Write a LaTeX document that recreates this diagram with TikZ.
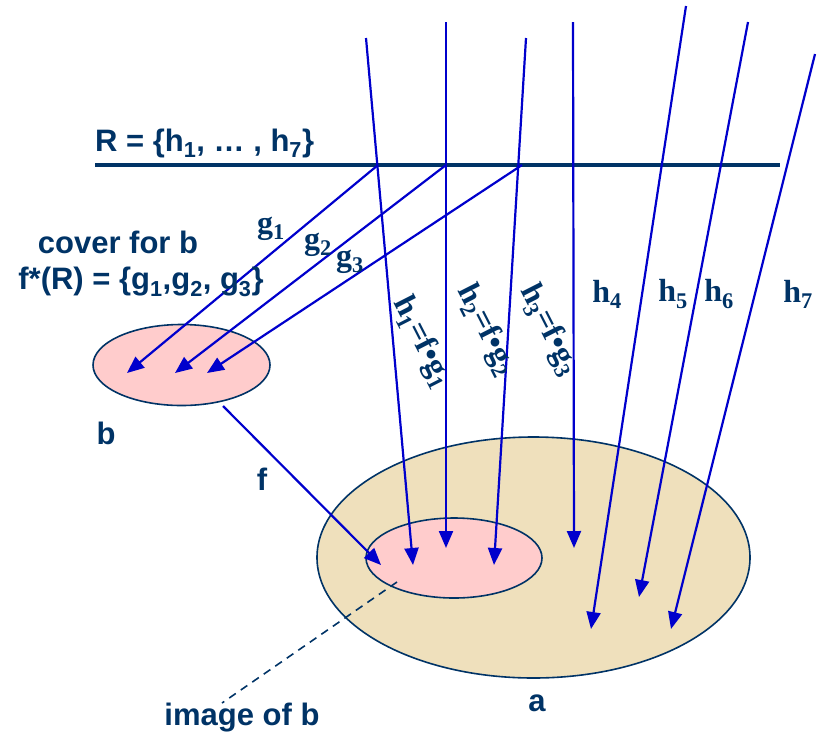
\documentclass[tikz,border=0pt]{standalone}
\usepackage{fontspec}
\setmainfont{Liberation Sans}
\newfontfamily\tms{Liberation Serif}
\usetikzlibrary{arrows.meta,shapes.geometric}
\definecolor{navy}{RGB}{0,51,102}
\definecolor{arr}{RGB}{0,0,204}
\definecolor{pinkf}{RGB}{255,204,204}
\definecolor{tan}{RGB}{239,224,188}
\tikzset{
  lbl/.style={text=navy,font=\fontsize{31}{34}\selectfont\bfseries,inner sep=0pt},
  tlbl/.style={text=navy,font=\fontsize{32}{34}\selectfont\tms\bfseries,inner sep=0pt},
  map/.style={draw=arr,line width=2.2pt,-{Triangle[length=17pt,width=14pt]}},
  setb/.style={ellipse,draw=navy,line width=1.6pt,inner sep=0pt},
}
\begin{document}
\begin{tikzpicture}[x=1pt,y=-1pt]
\useasboundingbox (0,0) rectangle (819,737);
% sets
\node[setb,fill=tan,minimum width=433pt,minimum height=241pt] (a) at (533.5,557.5) {};
\node[setb,fill=pinkf,minimum width=176pt,minimum height=80pt] (img) at (454,558) {};
\node[setb,fill=pinkf,minimum width=177pt,minimum height=81pt] (b) at (181.5,365) {};
% R line
\coordinate (R0) at (95,165);
\coordinate (R1) at (780,165);
\draw[navy,line width=3.6pt] (R0) -- (R1);
\node[lbl,anchor=base west] (Rl) at (95,151) {R = \{h\textsubscript{1}, \dots\ , h\textsubscript{7}\}};
% g arrows
\coordinate (s1) at (378,165);
\coordinate (s2) at (446,165);
\coordinate (s3) at (522,165);
\coordinate (tb1) at (127,373);
\coordinate (tb2) at (175,373);
\coordinate (tb3) at (207,373);
\draw[map] (s1) -- (tb1);
\draw[map] (s2) -- (tb2);
\draw[map] (s3) -- (tb3);
\node[tlbl] (g1) at (271,229) {g\textsubscript{1}};
\node[tlbl] (g2) at (318,245) {g\textsubscript{2}};
\node[tlbl] (g3) at (350,262) {g\textsubscript{3}};
% h arrows
\coordinate (h1s) at (366,38);
\coordinate (h2s) at (446,22);
\coordinate (h3s) at (526,38);
\coordinate (h4s) at (573,22);
\coordinate (h5s) at (686,6);
\coordinate (h6s) at (748,22);
\coordinate (h7s) at (815,54);
\coordinate (h1t) at (413,565);
\coordinate (h2t) at (446,548);
\coordinate (h3t) at (494,565);
\coordinate (h4t) at (574,548);
\coordinate (h5t) at (591,629);
\coordinate (h6t) at (639,597);
\coordinate (h7t) at (671,629);
\draw[map] (h1s) -- (h1t);
\draw[map] (h2s) -- (h2t);
\draw[map] (h3s) -- (h3t);
\draw[map] (h4s) -- (h4t);
\draw[map] (h5s) -- (h5t);
\draw[map] (h6s) -- (h6t);
\draw[map] (h7s) -- (h7t);
% f arrow
\coordinate (fs) at (223,406);
\coordinate (ft) at (381,565);
\draw[map] (fs) -- (ft);
\node[lbl] (fl) at (262,479) {f};
% rotated labels
\node[tlbl,rotate=-63] (l1) at (422,342) {h\textsubscript{1}=f\textbullet g\textsubscript{1}};
\node[tlbl,rotate=-63] (l2) at (486,330) {h\textsubscript{2}=f\textbullet g\textsubscript{2}};
\node[tlbl,rotate=-63] (l3) at (549,330) {h\textsubscript{3}=f\textbullet g\textsubscript{3}};
\node[tlbl] (l4) at (607,294) {h\textsubscript{4}};
\node[tlbl] (l5) at (673,294) {h\textsubscript{5}};
\node[tlbl] (l6) at (719,294) {h\textsubscript{6}};
\node[tlbl] (l7) at (798,294) {h\textsubscript{7}};
% texts
\node[lbl] (cov) at (118,242) {cover for b};
\node[lbl] (fR) at (141,282) {f*(R) = \{g\textsubscript{1},g\textsubscript{2}, g\textsubscript{3}\}};
\node[lbl] (bl) at (106,433) {b};
\node[lbl] (al) at (537,703) {a};
\node[lbl] (il) at (242,718) {image of b};
% dashed pointer
\coordinate (ds) at (397,582);
\coordinate (de) at (222,703);
\draw[navy,line width=1.6pt,dash pattern=on 8pt off 6pt] (ds) -- (de);
\end{tikzpicture}
\end{document}
